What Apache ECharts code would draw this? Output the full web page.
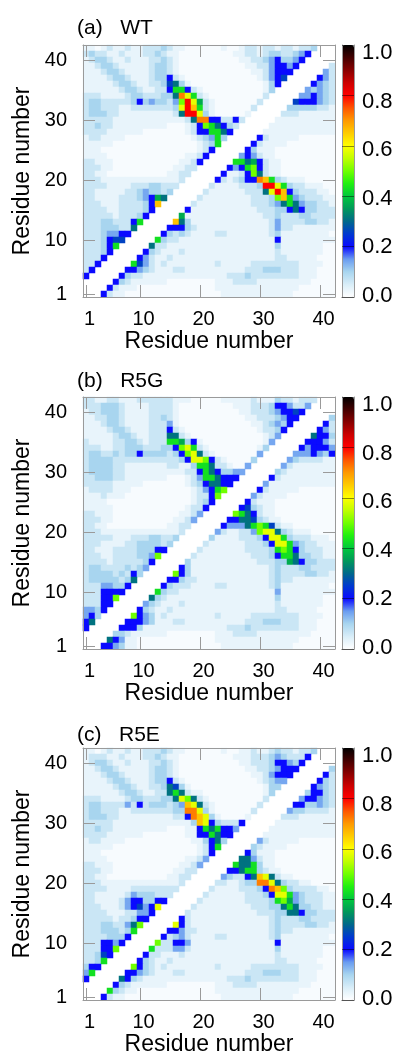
<!DOCTYPE html>
<html>
<head>
<meta charset="utf-8">
<script src="https://cdn.jsdelivr.net/npm/echarts/dist/echarts.min.js"></script>
<style>
    html, body { margin: 0; padding: 0; background: #fff; }
    #chart { width: 401px; height: 1054px; }
</style>
</head>
<body>
<div id="chart"></div>
<script>
// residue numbers on both axes
const residues = [1, 2, 3, 4, 5, 6, 7, 8, 9, 10, 11, 12, 13, 14, 15, 16, 17, 18, 19, 20, 21,
    22, 23, 24, 25, 26, 27, 28, 29, 30, 31, 32, 33, 34, 35, 36, 37, 38, 39, 40, 41, 42];
const tickResidues = [1, 10, 20, 30, 40];
const colorbarTicks = [0, 0.2, 0.4, 0.6, 0.8, 1.0];
const panelTitles = ['(a)   WT', '(b)   R5G', '(c)   R5E'];

// colour scale 0.0 .. 1.0 in steps of 0.05
const colourStops = ['#ffffff', '#d8edf8', '#a8d5ef', '#6a9cf0', '#0a0aff', '#0038d0', '#00688a',
    '#00985a', '#00c83c', '#20f010', '#70ff00', '#c0ff00', '#ffff00', '#ffcc00', '#ff9900',
    '#ff5500', '#ff0000', '#cc0000', '#880000', '#440000', '#000000'];

// one character per cell, '.' = no data (diagonal)
const levelKeys = '.123456789abcdefg';
const levelValues = [0, 0.01, 0.03, 0.065, 0.1, 0.14, 0.2, 0.26, 0.31, 0.37, 0.43, 0.5, 0.58, 0.66, 0.72, 0.8, 0.88];

// rows from residue 42 (top) down to residue 1, columns residue 1..42
const mapWT = [
    "221 23223 2233 343 2211 1111211 23323 32332 334 ...",
    "3433223222 3343221111 1111122332 34433456 ....",
    "2344322322 2334321111 1111112233 4564456 .....",
    "2234432222 2344321111 1111111223 356656 ..... 3",
    "2223443222 2344321111 1111111122 35666 ..... 53",
    "2222344322 2344632111 1111111112 3567 ..... 653",
    "2222234432 2334784211 1111111111 246 ..... 6543",
    "2222223443 22336aa632 1111111111 24 ..... 54543",
    "3332222344 33344 8eca3 2111111111 3 ..... 556543",
    "3443333346 45443 5bfc9 3211111113 ..... 7666543",
    "3443332233 333334 cfda 321111113 ..... 44444332",
    "3444332222 222223 8ffc 42111112 ..... 333222222",
    "3333322222 22222223 8e e663363 ..... 2222222222",
    "3343322222 22221112 36 ba8643 ..... 22222222222",
    "3333222222 11111112 36 6aa86 ..... 222222222222",
    "2332222111 11111111 23 45a4 ..... 6322222111111",
    "2222211111 1111111112 34a ..... 63222211111111",
    "2221111111 1111111112 36 ..... 642221111111111",
    "2222111111 1111111223 6 ..... 5653221111111111",
    "3322211111 1111112236 ..... aa896322111111111",
    "3332211111 111112233 ..... 656ab6 322 111111111",
    "3322111111 11112233 ..... 6223 6b83 22111111111",
    "3332222222 2222223 ..... 63234 66eda 43 22211111",
    "3333222233 344333 ..... 32222333 4ffca 43 322211",
    "3322222334 54434 ..... 3 222222333 8cfd6 43 33221",
    "332222333 45698 ..... 3 22222 222 3334 bda5 4 33322",
    "333222333 346d ..... 3 22222 2222 3334 58a85 4 4332",
    "333322333 346 ..... 6 22222 22222 2 333 44686 4 4333",
    "33333233 346 ..... 9 22222 22222 222 33 4 333 443333",
    "3334433 36a ..... d84 22222 22222 222 3 5 333344332",
    "3334443 38 ..... 6664 3 22222 22222 22 3 5 332222222",
    "33345566 ..... 64343 2222 33 22222 22 3 4 222222221",
    "3334677 ..... a433 22222 22222 22222 2 6 222222222",
    "33346a ..... 833 22222 22222 22222 222 4 22222 2211",
    "33346 ..... 643 222 3 22222 22222 22222 3222222211",
    "3336 ..... 653 22 3 22222 22222 22222 22 3322222111",
    "336 ..... a753 23 22222222 3 22222 3333 3333222211",
    "36 ..... 66543 222 33 22222 22222 333 44 4333222111",
    "6 ..... 6433 22222 22222 2222 33343333 3333222111",
    "..... 643 222222 11111111 222 3333 222 2222221111",
    ".... 63 222 11111 11111 111 22222 22222 2222111111",
    "... 63 22 11111 11111 111111 22222 2222 2221111111"
];

const mapR5G = [
    "332 23322 2333 333 2221 1111222 22322 24332 333 ...",
    "3334443222 2333321111 1111122233 34665335 ....",
    "2334443222 2333321111 1111112233 3456676 .....",
    "2233443222 2334321111 1111111223 334566 ..... 4",
    "2223443222 2333521111 1111111122 34546 ..... 63",
    "2222344322 2333632111 1111111112 3346 ..... 653",
    "2222234432 2333883211 1111111111 235 ..... 8664",
    "3222233443 2333aa9462 1111111111 25 ..... 66653",
    "3332233444 333446bca3 2111111112 4 ..... 656665",
    "3443343446 44443 46bc8 3211111115 ..... 5556546",
    "3444433333 3333334 6ccb6 3211114 ..... 54333322",
    "3444433222 22223322 4aa8 332115 ..... 532222222",
    "3444433222 222222233 6a864455 ..... 4322222222",
    "3344433222 222211123 5aa8666 ..... 63222222222",
    "3333322222 111111123 468866 ..... 522222222222",
    "2333322211 1111111123 56ab ..... 6322222111111",
    "2223222111 1111111123 36b ..... 53222211111111",
    "2222111111 1111111123 46 ..... 632221111111111",
    "2222211111 1111111233 6 ..... 6743221111111111",
    "3322211111 1111112235 ..... ba863 221111111111",
    "3332211111 111112235 ..... 668874 3 22111111111",
    "3322111111 11112233 ..... 6555 8aba7 3 221111111",
    "3332222222 2222223 ..... 5 32233 5bcc8 4 32221111",
    "3333322233 344334 ..... 4 22223334 6cca 43 332221",
    "3332222334 44434 ..... 3 222222 3334 6cca5 4 33222",
    "332223333 44466 ..... 3 22222 22 33334 aba6 4 33322",
    "333223333 445b ..... 3 22222 2222 3334 6aa84 43322",
    "333323333 346 ..... 4 22222 22222 2 333 44986 4 4333",
    "34433334 345 ..... 6 4 22222 22222 222 3 4 333 443333",
    "3444434 364 ..... b64 22222 22222 222 3 4 333344332",
    "3444443 48 ..... 6643 3 22222 22222 22 3 4 332222222",
    "33355446 ..... 64333 2222 33 22222 22 3 4 222222221",
    "3336666 ..... a433 22222 22222 22222 2 5 222222222",
    "33366b ..... 843 22222 22222 22222 222 4 22222 2211",
    "33366 ..... 543 222 3 22222 22222 22222 3222222211",
    "5546 ..... 643 22 3 22222 22222 22222 22 3322222111",
    "564 ..... b654 23 22222222 3 22222 3333 3333222211",
    "68 ..... 66654 222 33 22222 22222 333 44 4333222111",
    "6 ..... 6664 22222 22222 2222 33343333 3333222111",
    "..... 443 222222 11111111 222 3333 222 2222221111",
    ".... 865 22 11111 11111 111 22222 22222 2222111111",
    "... 6654 22 11111 11111 1111 22222 2222 2221111111"
];

const mapR5E = [
    "221 23223 2233 343 2211 1111211 22322 34332 334 ...",
    "2333223222 3343221111 1111122233 34543336 ....",
    "2344322322 2334321111 1111112233 3466546 .....",
    "2234432222 2344321111 1111111223 345666 ..... 4",
    "2223443222 2344321111 1111111122 35666 ..... 63",
    "2222344322 2344632111 1111111112 3455 ..... 643",
    "2222234432 2334874211 1111111111 244 ..... 6543",
    "2222223443 22338a8322 1111111111 24 ..... 46643",
    "3332222344 333448cb83 2111111111 3 ..... 566543",
    "3443333536 3444345dc8 3211111113 ..... 6644543",
    "3443332233 333334 4eec4 21111113 ..... 54433332",
    "3444332222 2222233 6edc4 211112 ..... 333222222",
    "3333322222 22222222 4d c64333 6 ..... 2222222222",
    "3343322222 222211122 6a8a665 ..... 22222222222",
    "3333222222 111111122 66a866 ..... 222222222222",
    "2332222111 1111111122 4684 ..... 5322222111111",
    "2222211111 1111111112 36a ..... 43222211111111",
    "2221111111 1111111112 36 ..... 642221111111111",
    "2222111111 1111111223 5 ..... 8853221111111111",
    "3322211111 1111112235 ..... a88a4 221111111111",
    "3332211111 111112233 ..... 668aa4 3 22111111111",
    "3322111111 11112233 ..... 5433 68dc8 3 221111111",
    "3332222222 2222223 ..... 3 32234 4eec8 4 33221111",
    "3333222233 333333 ..... 3 22223334 6edb 43 333221",
    "3322222354 44333 ..... 3 222222 3334 6cca5 4 33322",
    "3322223 5664466 ..... 3 22222 22 33334 ab95 4 33322",
    "3332223 56756c ..... 3 22222 2222 3334 48a84 43322",
    "333322233 556 ..... 3 22222 22222 2 333 44886 4 4333",
    "33333233 466 ..... 6 3 22222 22222 222 3 4 333 443333",
    "3334433 58b ..... c63 22222 22222 222 3 4 333344332",
    "3334443 4a ..... 6653 3 22222 22222 22 3 4 332222222",
    "33334446 ..... 63453 2222 33 22222 22 3 4 222222221",
    "3336656 ..... b33665 22222 22222 2222 6 222222222",
    "33366b ..... a33355 3 22222 22222 2222 4 222222211",
    "33476 ..... 633 222 3 22222 22222 22222 3222222211",
    "334a ..... 643 22 3 22222 22222 22222 22 3322222111",
    "466 ..... b643 23 22222222 3 22222 3333 3333222211",
    "5a ..... 66543 222 33 22222 22222 333 44 4333222111",
    "6 ..... 8643 22222 22222 2222 33343333 3333222111",
    "..... 643 222222 11111111 222 3333 222 2222221111",
    ".... a43 22 11111 11111 111 22222 22222 2222111111",
    "... 63 22 11111 11111 111111 22222 2222 2221111111"
];

const panelMaps = [mapWT, mapR5G, mapR5E];
const panelTops = [45, 397, 748];
const titleTops = [18, 371, 725];

const fontFamily = '"Liberation Sans", Arial, Helvetica, sans-serif';
const frameColor = '#9a9a9a';
const residueNames = residues.map(String);

// turn the character rows into [x, y, value] cells
function decodeMap(rows) {
    let data = [];
    rows.forEach((row, k) => {
        let cells = row.replace(/ /g, '');
        if (cells.length !== residues.length) console.warn('row ' + k + ' has ' + cells.length + ' cells');
        let y = residues.length - 1 - k;
        for (let x = 0; x < cells.length; x++) {
            let level = levelKeys.indexOf(cells[x]);
            if (level > 0) data.push([x, y, levelValues[level]]);
        }
    });
    return data;
}

function isTickIndex(index) {
    return tickResidues.indexOf(residues[index]) !== -1;
}

let grids = [], xAxes = [], yAxes = [], seriesList = [], visualMaps = [], titles = [];

panelMaps.forEach((rows, p) => {
    let top = panelTops[p];
    let g = grids.length;
    grids.push({ left: 83, top: top, width: 252, height: 252, outerBoundsMode: 'none' });      // contact map
    grids.push({ left: 342, top: top, width: 12, height: 252, outerBoundsMode: 'none' });      // colour bar frame
    grids.push({ left: 342, top: top + 8, width: 12, height: 243, outerBoundsMode: 'none' });  // colour bar labels

    let frame = { show: true, lineStyle: { color: frameColor, width: 1 } };
    let ticks = {
        show: true, inside: true, length: 12, alignWithLabel: true,
        interval: isTickIndex, lineStyle: { color: frameColor, width: 1 }
    };

    let xMain = xAxes.length;
    xAxes.push({
        gridIndex: g, type: 'category', data: residueNames, position: 'bottom', z: 5,
        axisLine: frame, axisTick: ticks, splitLine: { show: false },
        axisLabel: { interval: isTickIndex, margin: 12, fontSize: 20, color: '#000', fontFamily: fontFamily, padding: [0, 0, 0, 7] },
        name: 'Residue number', nameLocation: 'middle', nameGap: 32,
        nameTextStyle: { fontSize: 23, color: '#000', fontFamily: fontFamily }
    });
    xAxes.push({
        gridIndex: g, type: 'category', data: residueNames, position: 'top', z: 5,
        axisLine: frame, axisTick: ticks, axisLabel: { show: false }, splitLine: { show: false }
    });

    let yMain = yAxes.length;
    yAxes.push({
        gridIndex: g, type: 'category', data: residueNames, position: 'left', z: 5,
        axisLine: frame, axisTick: ticks, splitLine: { show: false },
        axisLabel: { interval: isTickIndex, margin: 16, fontSize: 20, color: '#000', fontFamily: fontFamily },
        name: 'Residue number', nameLocation: 'middle', nameGap: 45,
        nameTextStyle: { fontSize: 23, color: '#000', fontFamily: fontFamily }
    });
    yAxes.push({
        gridIndex: g, type: 'category', data: residueNames, position: 'right', z: 5,
        axisLine: frame, axisTick: ticks, axisLabel: { show: false }, splitLine: { show: false }
    });

    // colour bar frame and the dark tick lines across it
    xAxes.push({ gridIndex: g + 1, type: 'category', data: [''], position: 'bottom', z: 10, axisLine: frame, axisTick: { show: false }, axisLabel: { show: false } });
    xAxes.push({ gridIndex: g + 1, type: 'category', data: [''], position: 'top', z: 10, axisLine: frame, axisTick: { show: false }, axisLabel: { show: false } });
    yAxes.push({
        gridIndex: g + 1, type: 'value', min: 0, max: 1, position: 'left', z: 10,
        axisLine: frame, axisTick: { show: false }, axisLabel: { show: false }, splitLine: { show: false }
    });
    yAxes.push({
        gridIndex: g + 1, type: 'value', min: 0, max: 1, interval: 0.2, position: 'right', z: 10,
        axisLine: frame, splitLine: { show: false }, axisLabel: { show: false },
        axisTick: { show: true, inside: true, length: 12, customValues: colorbarTicks, lineStyle: { color: 'rgba(0,0,0,0.45)', width: 1 } }
    });

    // colour bar labels
    xAxes.push({ gridIndex: g + 2, type: 'category', data: [''], show: false });
    yAxes.push({
        gridIndex: g + 2, type: 'value', min: 0, max: 1, interval: 0.2, position: 'right',
        axisLine: { show: false }, axisTick: { show: false }, splitLine: { show: false },
        axisLabel: {
            margin: 8, fontSize: 22, color: '#000', fontFamily: fontFamily, customValues: colorbarTicks,
            formatter: (v) => v.toFixed(1)
        }
    });

    visualMaps.push({
        type: 'continuous', seriesIndex: p, dimension: 2, min: 0, max: 1,
        calculable: false, hoverLink: false, orient: 'vertical',
        left: 342, top: top, itemWidth: 12, itemHeight: 252, padding: 0,
        inRange: { color: colourStops }
    });

    seriesList.push({
        type: 'heatmap', xAxisIndex: xMain, yAxisIndex: yMain,
        data: decodeMap(rows), progressive: 0,
        emphasis: { disabled: true }, itemStyle: { borderWidth: 0 }
    });

    titles.push({
        text: panelTitles[p], left: 77, top: titleTops[p], padding: 0,
        textStyle: { fontSize: 21, fontWeight: 'normal', color: '#000', fontFamily: fontFamily }
    });
});

let chart = echarts.init(document.getElementById('chart'));
chart.setOption({
    animation: false,
    backgroundColor: '#fff',
    textStyle: { fontFamily: fontFamily },
    title: titles,
    grid: grids,
    xAxis: xAxes,
    yAxis: yAxes,
    visualMap: visualMaps,
    series: seriesList
});
</script>
</body>
</html>
